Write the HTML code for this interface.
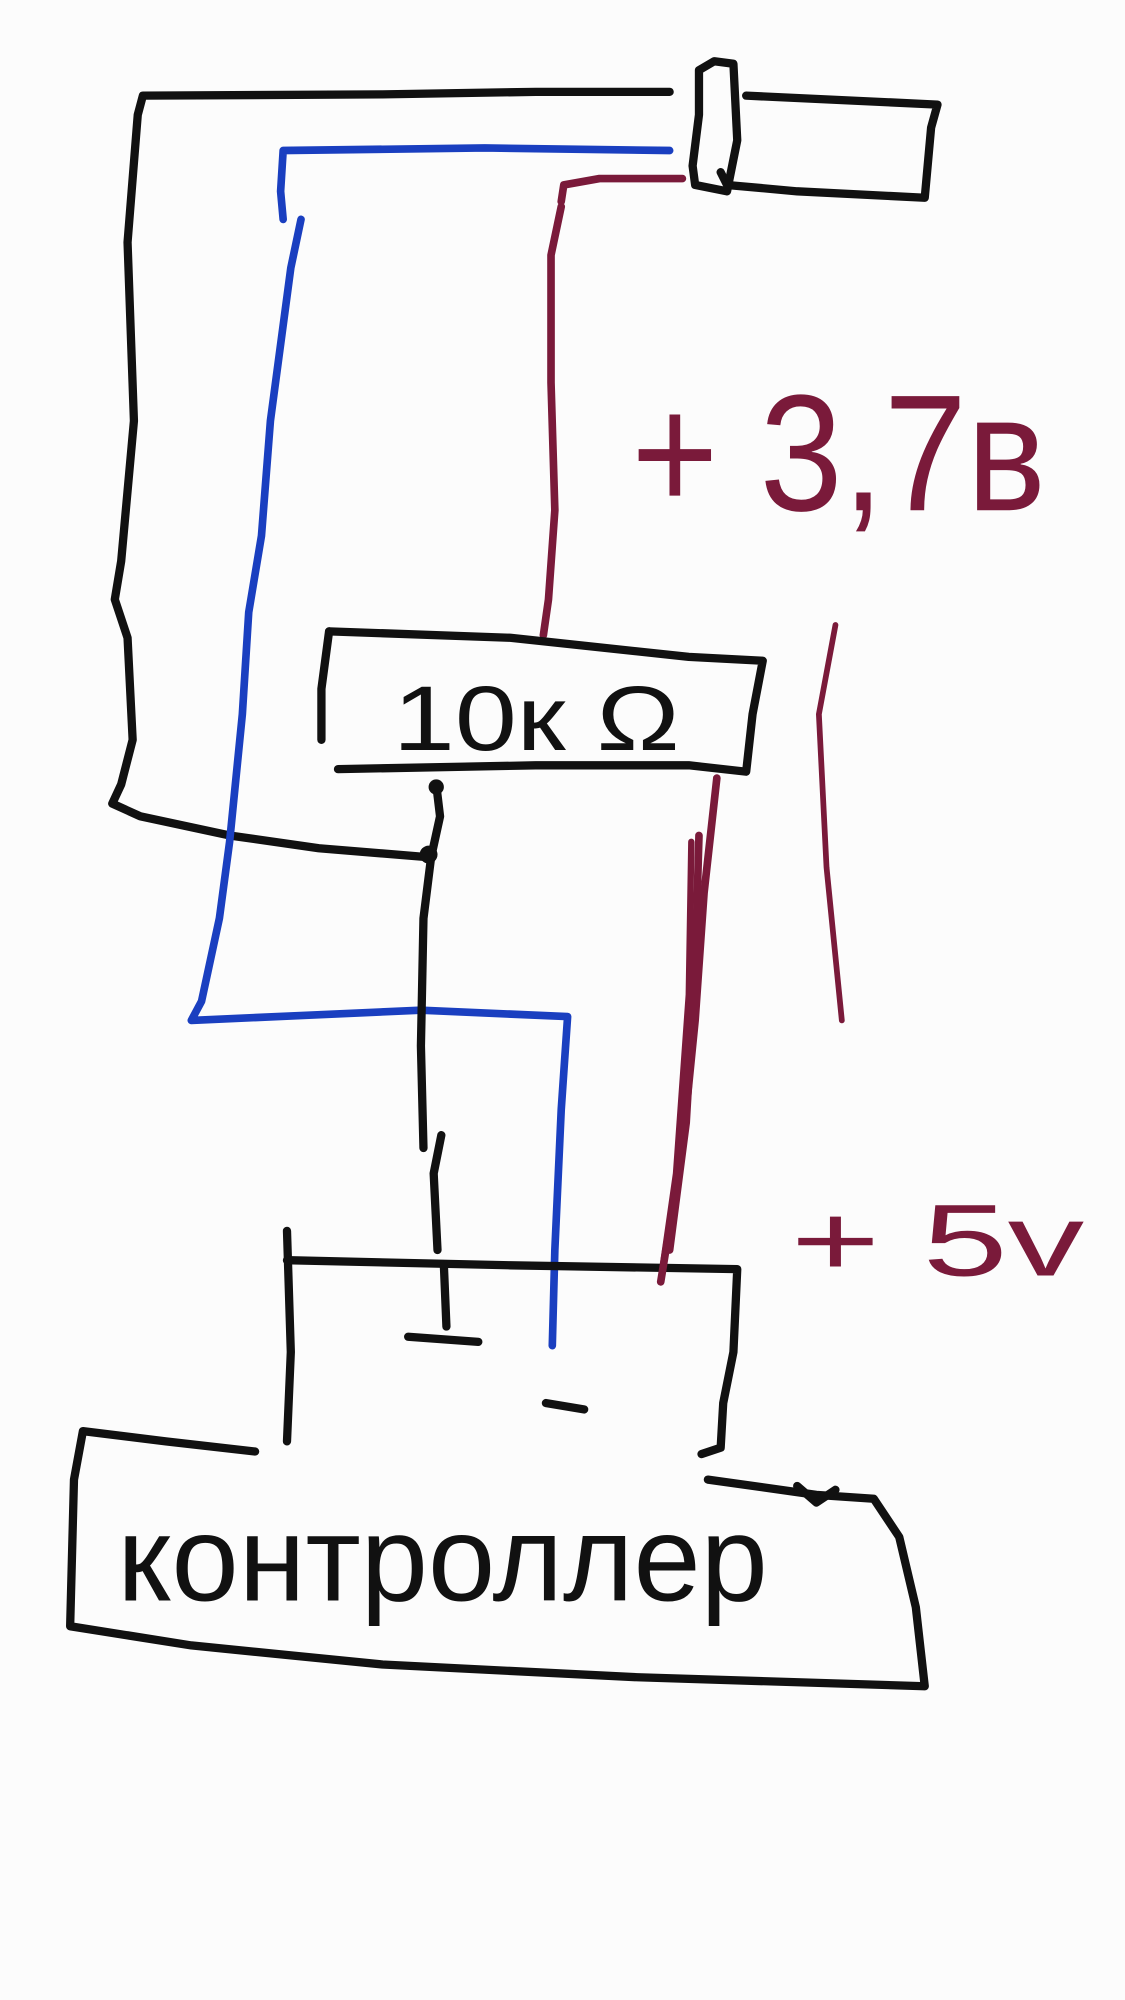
<!DOCTYPE html>
<html><head><meta charset="utf-8"><style>
html,body{margin:0;padding:0;background:#fcfcfc;}
svg{display:block;}
</style></head><body>
<svg width="1125" height="2000" viewBox="0 0 882 1568" xmlns="http://www.w3.org/2000/svg">
<rect width="882" height="1568" fill="#fcfcfc"/>
<g fill="none" stroke-linecap="round" stroke-linejoin="round">
<path d="M525,72 L420,72 L300,74 L112,75 L108,90 L100,190 L105,330 L95,440 L90,470 L100,500 L104,580 L95,615 L88,630 L110,640 L180,655 L250,665 L335,672" stroke="#111" stroke-width="6.5"/>
<path d="M585,75 L735,82 L730,100 L725,155 L625,150 L570,145 L565,135" stroke="#111" stroke-width="6.5"/>
<path d="M548,55 L560,48 L575,50 L578,110 L570,150 L545,145 L543,130 L548,90 Z" stroke="#111" stroke-width="6.5"/>
<path d="M525,118 L380,116 L222,118 L220,150 L222,172" stroke="#1a3fc0" stroke-width="6"/>
<path d="M236,172 L228,210 L212,330 L205,420 L195,480 L190,560 L180,660 L172,720 L158,785 L150,800 L240,796 L330,792 L445,797 L440,870 L435,980 L433,1055" stroke="#1a3fc0" stroke-width="6"/>
<path d="M535,140 L470,140 L442,145 L440,158" stroke="#7a1a3a" stroke-width="6"/>
<path d="M440,162 L432,200 L432,300 L435,400 L430,470 L426,498" stroke="#7a1a3a" stroke-width="6"/>
<path d="M258,495 L400,500 L540,515 L598,518 L590,560 L585,605 L540,600 L420,600 L265,603" stroke="#111" stroke-width="6.5"/>
<path d="M258,495 L252,540 L252,580" stroke="#111" stroke-width="6.5"/>
<path d="M342,615 L345,640 L338,672 L332,720 L330,820 L332,900" stroke="#111" stroke-width="6.5"/>
<circle cx="336" cy="670" r="7" fill="#111"/>
<circle cx="342" cy="617" r="6" fill="#111"/>
<path d="M346,890 L340,920 L343,980" stroke="#111" stroke-width="6.5"/>
<path d="M225,965 L228,1060 L225,1130" stroke="#111" stroke-width="6.5"/>
<path d="M225,988 L400,992 L578,995 L575,1060 L567,1100 L565,1135 L550,1140" stroke="#111" stroke-width="6.5"/>
<path d="M348,992 L350,1040" stroke="#111" stroke-width="6.5"/>
<path d="M320,1048 L375,1052" stroke="#111" stroke-width="6.5"/>
<path d="M428,1100 L458,1105" stroke="#111" stroke-width="6.5"/>
<path d="M562,610 L552,700 L545,800 L535,900 L518,1005" stroke="#7a1a3a" stroke-width="6"/>
<path d="M548,655 L545,760 L538,880 L525,980" stroke="#7a1a3a" stroke-width="6"/>
<path d="M542,660 L540,780 L530,920 L520,990" stroke="#7a1a3a" stroke-width="5"/>
<path d="M655,490 L642,560 L648,680 L660,800" stroke="#7a1a3a" stroke-width="4.5"/>
<path d="M200,1138 L130,1130 L65,1122 L58,1160 L55,1275 L150,1290 L300,1305 L500,1315 L725,1322 L718,1260 L705,1205 L685,1175 L640,1172 L555,1160" stroke="#111" stroke-width="6.5"/>
<path d="M625,1165 L640,1178 L655,1168" stroke="#111" stroke-width="6.5"/>
</g>
<text x="308" y="588" font-family="Liberation Sans, DejaVu Sans, sans-serif" font-size="72" fill="#111" textLength="225" lengthAdjust="spacingAndGlyphs">10к Ω</text>
<text x="495" y="400" font-family="Liberation Sans, DejaVu Sans, sans-serif" font-size="130" fill="#7a1a3a" textLength="325" lengthAdjust="spacingAndGlyphs">+ 3,7в</text>
<text x="620" y="1000" font-family="Liberation Sans, DejaVu Sans, sans-serif" font-size="80" fill="#7a1a3a" textLength="230" lengthAdjust="spacingAndGlyphs">+ 5v</text>
<text x="92" y="1255" font-family="Liberation Sans, DejaVu Sans, sans-serif" font-size="95" fill="#111" textLength="510" lengthAdjust="spacingAndGlyphs">контроллер</text>
</svg>
</body></html>
